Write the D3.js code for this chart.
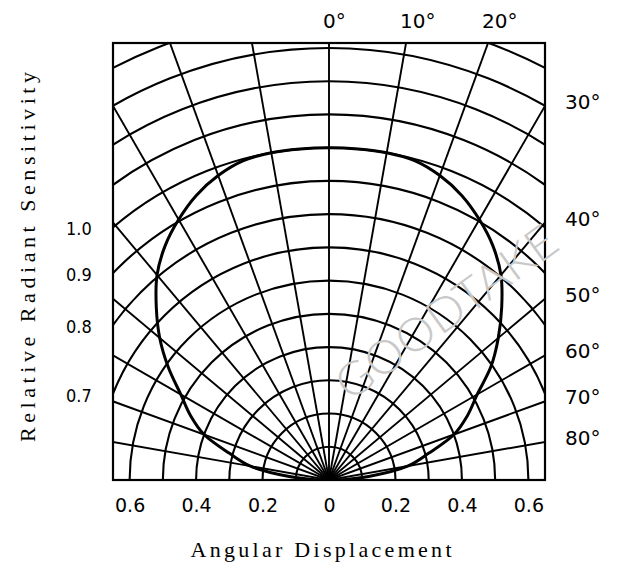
<!DOCTYPE html>
<html>
<head>
<meta charset="utf-8">
<script src="https://cdn.jsdelivr.net/npm/d3@7/dist/d3.min.js"></script>
<style>
  html, body { margin: 0; padding: 0; background: #fff; }
  svg { display: block; }
</style>
</head>
<body>
<svg id="chart" width="617" height="570"></svg>
<script>
// ---------- data ----------
const curveAngles = [-90, -88, -85, -80, -75, -70, -65, -60, -55, -50, -45, -40, -35, -30, -25, -20, -15, -10, -5, 0,
                     5, 10, 15, 20, 25, 30, 35, 40, 45, 50, 55, 60, 65, 70, 75, 80, 85, 88, 90];
const curveValues = [0.0, 0.05, 0.12, 0.24, 0.31, 0.40, 0.46, 0.515, 0.59, 0.665, 0.735, 0.805, 0.86, 0.905, 0.945, 0.975, 0.995, 1.0, 1.0, 1.0,
                     1.0, 1.0, 0.995, 0.975, 0.945, 0.905, 0.86, 0.805, 0.735, 0.665, 0.595, 0.515, 0.46, 0.40, 0.31, 0.24, 0.12, 0.05, 0.0];
const gridRadii = [0.1, 0.2, 0.3, 0.4, 0.5, 0.6, 0.7, 0.8, 0.9, 1.0, 1.1, 1.2, 1.3, 1.4, 1.5];
const spokeAngles = [-90, -80, -70, -60, -50, -40, -30, -20, -10, 0, 10, 20, 30, 40, 50, 60, 70, 80, 90];
const topAngleLabels = [0, 10, 20];
const rightAngleLabels = [30, 40, 50, 60, 70, 80];
const sensitivityLabels = [1.0, 0.9, 0.8, 0.7];
const displacementTicks = [-0.6, -0.4, -0.2, 0, 0.2, 0.4, 0.6];

// ---------- layout ----------
const svg = d3.select("#chart");
const box = { left: 113, right: 545, top: 43, bottom: 480 };
const x = d3.scaleLinear().domain([-0.65, 0.65]).range([box.left, box.right]);
const ox = x(0), oy = box.bottom;
const r = d3.scaleLinear().domain([0, 1]).range([0, x(1) - x(0)]);
const halfW = box.right - ox;

svg.append("defs").append("clipPath").attr("id", "clip")
  .append("rect").attr("x", box.left).attr("y", box.top)
  .attr("width", box.right - box.left).attr("height", box.bottom - box.top);

const plot = svg.append("g").attr("clip-path", "url(#clip)");
const g = plot.append("g").attr("transform", `translate(${ox},${oy})`);

// arcs
g.selectAll("path.arc").data(gridRadii).join("path")
  .attr("class", "arc")
  .attr("d", d => { const p = d3.path(); p.arc(0, 0, r(d), Math.PI, 2 * Math.PI); return p.toString(); })
  .attr("fill", "none").attr("stroke", "#000").attr("stroke-width", 2.1);

// spokes
g.selectAll("line.spoke").data(spokeAngles).join("line")
  .attr("class", "spoke")
  .attr("x1", 0).attr("y1", 0)
  .attr("x2", d => r(1.6) * Math.sin(d * Math.PI / 180))
  .attr("y2", d => -r(1.6) * Math.cos(d * Math.PI / 180))
  .attr("stroke", "#000").attr("stroke-width", 1.9);

// curve
const line = d3.lineRadial()
  .angle((d, i) => curveAngles[i] * Math.PI / 180)
  .radius(d => r(d))
  .curve(d3.curveCatmullRom.alpha(0.5));
g.append("path").datum(curveValues)
  .attr("d", line)
  .attr("fill", "none").attr("stroke", "#000").attr("stroke-width", 3);

// box
svg.append("rect").attr("x", box.left).attr("y", box.top)
  .attr("width", box.right - box.left).attr("height", box.bottom - box.top)
  .attr("fill", "none").attr("stroke", "#000").attr("stroke-width", 2.2);

// watermark
svg.append("text")
  .attr("transform", "translate(449,316) rotate(-36)")
  .attr("text-anchor", "middle").attr("dominant-baseline", "middle")
  .attr("font-family", "Lato, 'DejaVu Sans'").attr("font-weight", 300)
  .attr("font-size", 46).attr("fill", "#c8c8c8")
  .attr("textLength", 262).attr("lengthAdjust", "spacingAndGlyphs")
  .text("GOODTAKE");

// top angle labels
const labelFont = "'DejaVu Sans', sans-serif";
svg.selectAll("text.topl").data(topAngleLabels).join("text")
  .attr("class", "topl")
  .attr("x", d => ox + (oy - box.top) * Math.tan(d * Math.PI / 180) - 6)
  .attr("y", 28)
  .attr("font-family", labelFont).attr("font-size", 20)
  .text(d => d + "°");

// right angle labels
svg.selectAll("text.rightl").data(rightAngleLabels).join("text")
  .attr("class", "rightl")
  .attr("x", 565)
  .attr("y", d => oy - halfW / Math.tan(d * Math.PI / 180) + 3)
  .attr("font-family", labelFont).attr("font-size", 20)
  .text(d => d + "°");

// left sensitivity labels
svg.selectAll("text.leftl").data(sensitivityLabels).join("text")
  .attr("class", "leftl")
  .attr("transform", d => `translate(66,${oy - Math.sqrt(r(d) * r(d) - halfW * halfW) + 8}) scale(0.9,1)`)
  .attr("font-family", labelFont).attr("font-size", 18)
  .text(d => d.toFixed(1));

// bottom axis
const axis = d3.axisBottom(x).tickValues(displacementTicks).tickSize(0).tickPadding(19)
  .tickFormat(d => d === 0 ? "0" : Math.abs(d).toFixed(1));
const ax = svg.append("g").attr("transform", `translate(0,${box.bottom})`).call(axis);
ax.select(".domain").remove();
ax.selectAll("text").attr("font-family", labelFont).attr("font-size", 19).attr("fill", "#000");

// axis titles
svg.append("text")
  .attr("x", 321).attr("y", 557)
  .attr("text-anchor", "middle")
  .attr("font-family", "'Liberation Serif', serif").attr("font-size", 22)
  .attr("textLength", 261).attr("lengthAdjust", "spacing")
  .text("Angular Displacement");

svg.append("text")
  .attr("transform", "translate(35,257) rotate(-90)")
  .attr("text-anchor", "middle")
  .attr("font-family", "'Liberation Serif', serif").attr("font-size", 22)
  .attr("textLength", 370).attr("lengthAdjust", "spacing")
  .text("Relative Radiant Sensitivity");
</script>
</body>
</html>
